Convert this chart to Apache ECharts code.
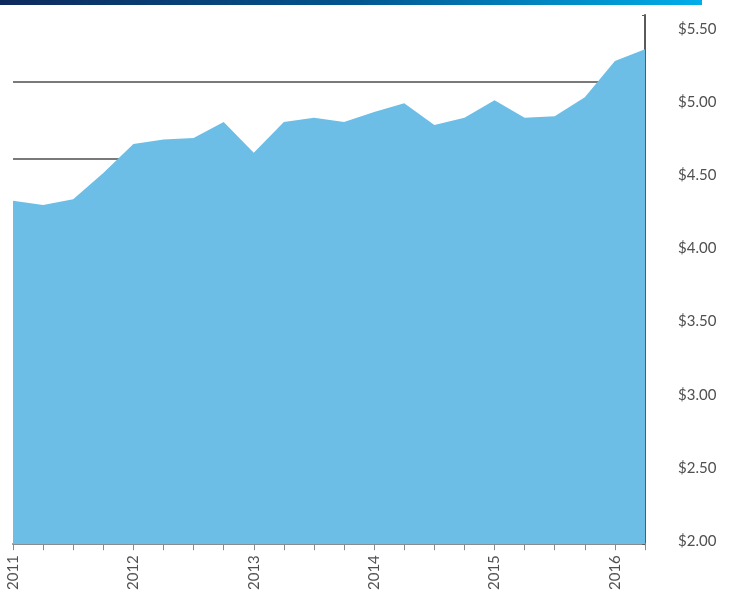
<!DOCTYPE html>
<html>
<head>
<meta charset="utf-8">
<script src="https://cdn.jsdelivr.net/npm/echarts@6/dist/echarts.min.js"></script>
<style>
html,body{margin:0;padding:0;background:#fff;}
#chart{width:732px;height:593px;}
</style>
</head>
<body>
<div id="chart"></div>
<script>
var quarters = ['2011 Q1','2011 Q2','2011 Q3','2011 Q4',
                '2012 Q1','2012 Q2','2012 Q3','2012 Q4',
                '2013 Q1','2013 Q2','2013 Q3','2013 Q4',
                '2014 Q1','2014 Q2','2014 Q3','2014 Q4',
                '2015 Q1','2015 Q2','2015 Q3','2015 Q4',
                '2016 Q1','2016 Q2'];
var prices = [4.32, 4.29, 4.33, 4.51,
              4.71, 4.74, 4.75, 4.86,
              4.65, 4.86, 4.89, 4.86,
              4.93, 4.99, 4.84, 4.89,
              5.01, 4.89, 4.90, 5.03,
              5.28, 5.36];
var yTickValues = [2.00, 2.50, 3.00, 3.50, 4.00, 4.50, 5.00, 5.50];

var chart = echarts.init(document.getElementById('chart'), null, {renderer:'canvas'});
var labelFont = {fontFamily:'Lato', fontSize:15, color:'#505050'};
chart.setOption({
  animation:false,
  graphic:[{
    type:'rect', left:0, top:0, shape:{width:702, height:5}, z:10,
    style:{fill:new echarts.graphic.LinearGradient(0,0,1,0,[
      {offset:0,color:'#0e2a5c'},{offset:0.5,color:'#03558f'},{offset:1,color:'#00aee9'}])}
  }],
  grid:[
    {left:13, right:87, top:15, bottom:46, show:false},
    {left:13, right:87, top:29, bottom:52, show:false}
  ],
  xAxis:[
    {type:'category', gridIndex:0, data:quarters, boundaryGap:false,
     axisLine:{show:true, onZero:false, lineStyle:{color:'#8a8a8a', width:2}},
     axisTick:{show:true, interval:0, length:6, lineStyle:{color:'#8a8a8a', width:1}},
     axisLabel:{interval:3, rotate:90, margin:11, fontFamily:'Lato', fontSize:15, color:'#505050',
       formatter:function(v){return v.slice(0,4);}},
     splitLine:{show:false}},
    {type:'category', gridIndex:1, data:quarters, show:false}
  ],
  yAxis:[
    {type:'value', gridIndex:0, position:'right', min:1.959, max:5.596,
     axisLine:{show:true, lineStyle:{color:'#5a5a5a', width:2}},
     axisTick:{show:false}, axisLabel:{show:false}, splitLine:{show:false}},
    {type:'value', gridIndex:0, position:'right', min:0, max:6.866, interval:1,
     axisLine:{show:false},
     axisTick:{show:true, inside:true, length:3, lineStyle:{color:'#5a5a5a'}},
     axisLabel:{show:false},
     splitLine:{show:true, showMinLine:false, showMaxLine:false, lineStyle:{color:'#7a7a7a', width:2}}},
    {type:'value', gridIndex:1, position:'right', min:2, max:5.5, interval:0.5,
     axisLine:{show:false}, axisTick:{show:false}, splitLine:{show:false},
     axisLabel:Object.assign({margin:33, formatter:function(v){return '$'+v.toFixed(2);}}, labelFont)}
  ],
  series:[{
    type:'line', xAxisIndex:0, yAxisIndex:0, data:prices,
    symbol:'none', lineStyle:{width:0, opacity:0},
    areaStyle:{color:'#6cbee6', opacity:1, origin:'start'}
  }]
});
</script>
</body>
</html>
